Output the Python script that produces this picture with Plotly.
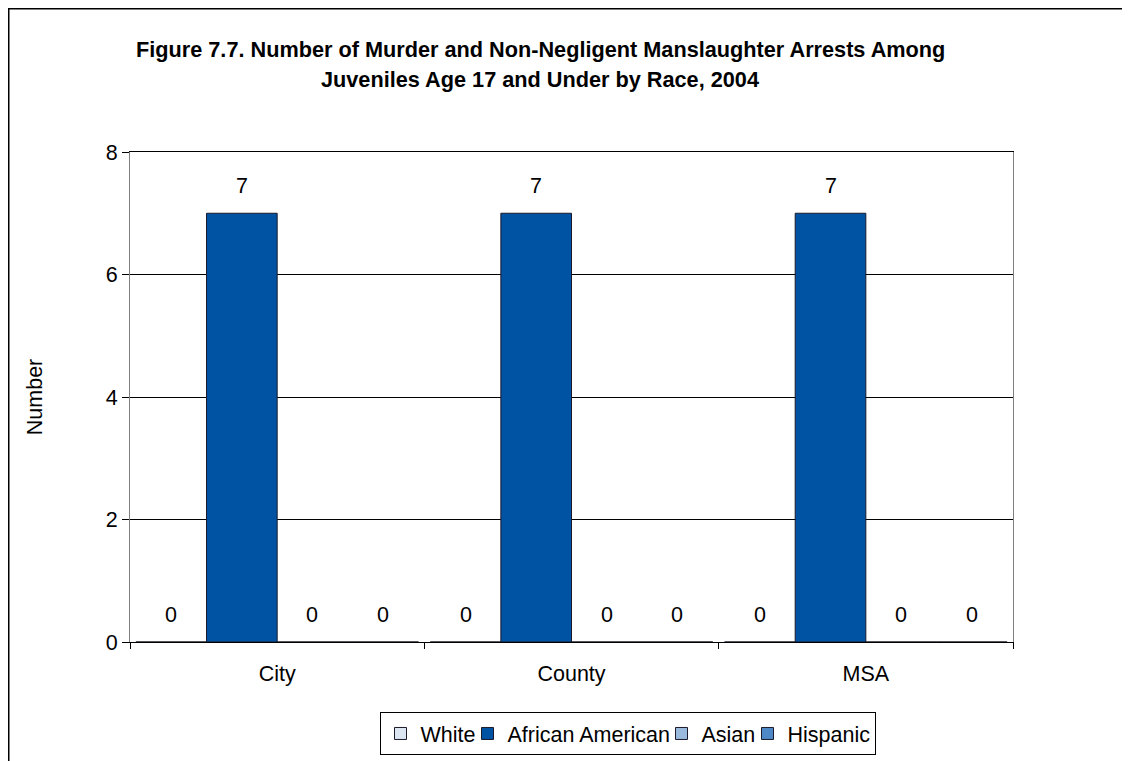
import plotly.graph_objects as go

categories = ["City", "County", "MSA"]
series_names = ["White", "African American", "Asian", "Hispanic"]
white = [0, 0, 0]
african_american = [7, 7, 7]
asian = [0, 0, 0]
hispanic = [0, 0, 0]
series_values = [white, african_american, asian, hispanic]
colors = ["#DCE6F2", "#0052A2", "#99B9DD", "#4F88C6"]
title_lines = [
    "Figure 7.7. Number of Murder and Non-Negligent Manslaughter Arrests Among",
    "Juveniles Age 17 and Under by Race, 2004",
]

# page has an 8px body margin, so the figure is drawn 8px smaller
W, H = 1122, 753
ML, MT, PW, PH = 122, 144, 883, 490
MR, MB = W - ML - PW, H - MT - PH
BARGAP = 0.04
FONT = "Arial, Liberation Sans, sans-serif"
FS = 21.5
# approximate legend entry widths (text width minus spacing tightening)
legend_widths = [42, 149, 41, 82]

fig = go.Figure()
for name, vals, col, lw in zip(series_names, series_values, colors, legend_widths):
    fig.add_trace(go.Bar(
        x=categories, y=vals, name=name, legendwidth=lw,
        marker=dict(color=col, line=dict(color="#1a1a2a", width=1)),
    ))

slot = PW / len(categories) * (1 - BARGAP) / len(series_names)
annotations = []
for i, vals in enumerate(series_values):
    for c, v in zip(categories, vals):
        annotations.append(dict(
            x=c, y=v, xref="x", yref="y", text=str(v), showarrow=False,
            xshift=(i - (len(series_names) - 1) / 2) * slot,
            yanchor="bottom", yshift=13,
            font=dict(family=FONT, size=FS, color="black"),
        ))

for txt, ypx in zip(title_lines, [42, 71]):
    annotations.append(dict(
        x=(532 - ML) / PW, y=(MT + PH - ypx) / PH, xref="paper", yref="paper",
        text="<b>" + txt + "</b>",
        showarrow=False, xanchor="center", yanchor="middle",
        font=dict(family=FONT, size=21.7, color="black"),
    ))

fig.update_layout(
    width=W, height=H,
    margin=dict(l=ML, r=MR, t=MT, b=MB, autoexpand=False),
    paper_bgcolor="white", plot_bgcolor="white",
    font=dict(family=FONT, size=FS, color="black"),
    barmode="group", bargap=BARGAP, bargroupgap=0,
    showlegend=True,
    legend=dict(
        orientation="h", x=(619.5 - ML) / PW, xanchor="center",
        y=(MT + PH - 704) / PH, yanchor="top",
        bordercolor="black", borderwidth=1, bgcolor="white",
        font=dict(family=FONT, size=FS, color="black"),
        itemwidth=30, traceorder="normal",
    ),
    xaxis=dict(
        showline=True, linecolor="black", linewidth=1, mirror=True,
        ticks="outside", tickson="boundaries", ticklen=6, tickcolor="black",
        showgrid=False, tickfont=dict(size=FS), ticklabelstandoff=12,
    ),
    yaxis=dict(
        range=[0, 8], dtick=2, showline=True, linecolor="#808080", linewidth=1, mirror=True,
        ticks="outside", ticklen=7, tickcolor="black",
        showgrid=True, gridcolor="black", gridwidth=1, zeroline=False,
        tickfont=dict(size=FS),
        title=dict(text="Number", font=dict(size=FS), standoff=57),
    ),
    annotations=annotations,
    shapes=[
        dict(type="line", xref="paper", yref="paper",
             x0=(0.5 - ML) / PW, x1=(0.5 - ML) / PW, y0=(MT + PH - 0) / PH, y1=(MT + PH - H - 5) / PH,
             line=dict(color="black", width=2)),
        dict(type="line", xref="paper", yref="paper",
             x0=(0 - ML) / PW, x1=(W + 5 - ML) / PW, y0=(MT + PH - 0.5) / PH, y1=(MT + PH - 0.5) / PH,
             line=dict(color="black", width=2)),
    ],
)

fig.write_html("out.html")
